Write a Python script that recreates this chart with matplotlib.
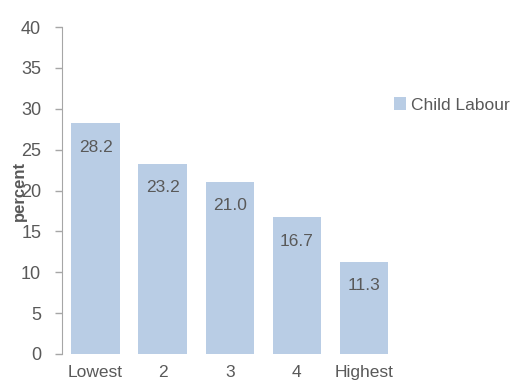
import matplotlib.pyplot as plt
import numpy as np

quintiles = ['Lowest', '2', '3', '4', 'Highest']
child_labour = [28.2, 23.2, 21.0, 16.7, 11.3]
y_ticks = [0, 5, 10, 15, 20, 25, 30, 35, 40]

plt.rcParams['font.family'] = ['Liberation Sans', 'DejaVu Sans']

bar_color = '#b9cde5'
text_color = '#595959'
axis_color = '#a6a6a6'

fig = plt.figure(figsize=(5.12, 3.8), dpi=100)
ax = fig.add_axes([62 / 512, 1 - 354 / 380, (397.4 - 62) / 512, (354 - 27) / 380])

x = np.arange(len(quintiles))
bars = ax.bar(x, child_labour, width=0.72, color=bar_color, label='Child Labour')

# value labels sit just inside the top of each bar
for xi, val in zip(x, child_labour):
    ax.annotate(f'{val:.1f}', xy=(xi, val), xytext=(0, -17), textcoords='offset points',
                ha='center', va='center', fontsize=12.5, color=text_color)

ax.set_xlim(-0.5, len(quintiles) - 0.5)
ax.set_ylim(0, 40)
ax.set_yticks(y_ticks)
ax.set_xticks(x)
ax.set_xticklabels(quintiles)

for side in ['top', 'right', 'bottom']:
    ax.spines[side].set_visible(False)
ax.spines['left'].set_color(axis_color)
ax.tick_params(axis='y', colors=axis_color, labelcolor=text_color, labelsize=13,
               length=5, width=1, pad=10)
ax.tick_params(axis='x', length=0, labelcolor=text_color, labelsize=12.5, pad=8)

ax.set_ylabel('percent', fontsize=12, fontweight='bold', color=text_color)
ax.yaxis.set_label_coords(-0.104, 0.5)

ax.legend(loc='center left', bbox_to_anchor=(394 / 512, 1 - 105 / 380),
          bbox_transform=fig.transFigure, frameon=False, borderpad=0, borderaxespad=0,
          fontsize=12.5, labelcolor=text_color, handlelength=0.7, handleheight=0.7,
          handletextpad=0.3)

plt.savefig('out.png', dpi=100)
